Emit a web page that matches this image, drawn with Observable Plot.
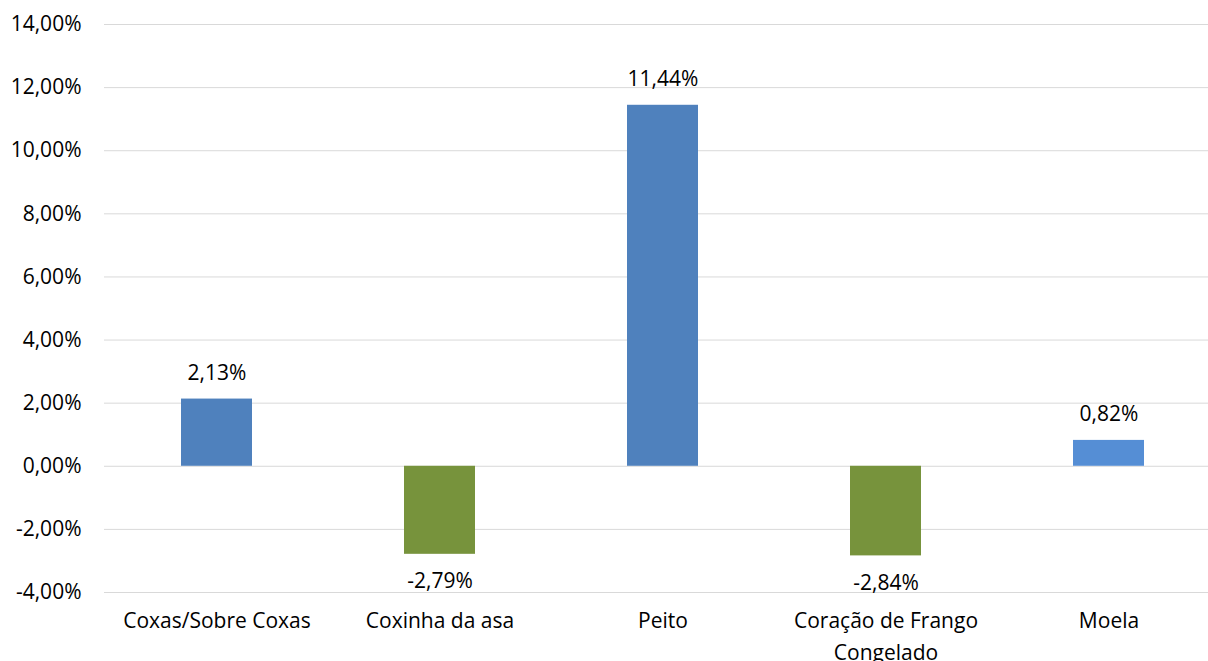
<!DOCTYPE html>
<html>
<head>
<meta charset="utf-8">
<script src="https://cdn.jsdelivr.net/npm/d3@7"></script>
<script src="https://cdn.jsdelivr.net/npm/@observablehq/plot@0.6"></script>
<style>
  html, body { margin: 0; padding: 0; background: #fff; }
  #chart svg { display: block; }
</style>
</head>
<body>
<div id="chart"></div>
<script>
const categories = ["Coxas/Sobre Coxas", "Coxinha da asa", "Peito", "Coração de Frango Congelado", "Moela"];
const categoryLabels = ["Coxas/Sobre Coxas", "Coxinha da asa", "Peito", "Coração de Frango\nCongelado", "Moela"];
const values = [2.13, -2.79, 11.44, -2.84, 0.82];
const yTicks = [-4, -2, 0, 2, 4, 6, 8, 10, 12, 14];

const barColors = ["#4F81BD", "#77933C", "#4F81BD", "#77933C", "#558ED5"];

const data = categories.map((c, i) => ({cat: c, label: categoryLabels[i], value: values[i]}));
const pos = data.filter(d => d.value >= 0);
const neg = data.filter(d => d.value < 0);
const fmt = v => v.toFixed(2).replace(".", ",") + "%";
const FONT = "Open Sans";
const FS = 21;

const chart = Plot.plot({
  width: 1208,
  height: 661,
  marginLeft: 104,
  marginRight: 0,
  marginTop: 24,
  marginBottom: 69,
  style: {fontFamily: FONT, fontSize: FS + "px", color: "#000", background: "#fff"},
  x: {domain: categories, range: [104, 1221], paddingInner: 0.68, paddingOuter: 0.34, axis: null},
  y: {domain: [-4, 14], ticks: yTicks},
  color: {domain: categories, range: barColors},
  marks: [
    Plot.ruleY(yTicks, {stroke: "#D9D9D9", strokeWidth: 1}),
    Plot.barY(data, {x: "cat", y: "value", fill: "cat"}),
    Plot.text(pos, {
      x: "cat", y: "value", text: d => fmt(d.value), dy: -26,
      fill: "#000", fontSize: FS, fontFamily: FONT
    }),
    Plot.text(neg, {
      x: "cat", y: "value", text: d => fmt(d.value), dy: 27,
      fill: "#000", fontSize: FS, fontFamily: FONT
    }),
    Plot.axisY(yTicks, {
      tickSize: 0, tickPadding: 23, tickFormat: fmt, label: null,
      fill: "#000", fontSize: FS, fontFamily: FONT
    }),
    Plot.text(data, {
      x: "cat", y: () => -4, text: "label",
      lineAnchor: "top", dy: 13, lineHeight: 1.52,
      fill: "#000", fontSize: FS, fontFamily: FONT
    })
  ]
});
document.getElementById("chart").appendChild(chart);
</script>
</body>
</html>
